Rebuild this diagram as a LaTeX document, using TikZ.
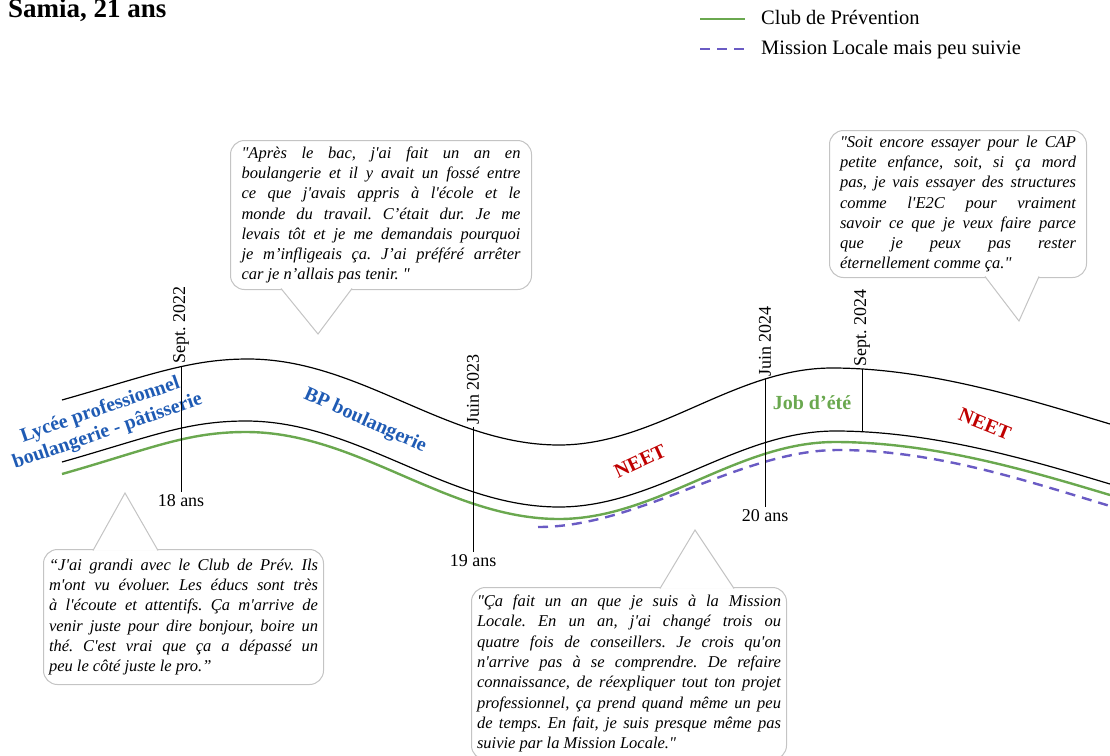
\documentclass[tikz,border=0pt]{standalone}
\usepackage{fontspec}
\setmainfont{Liberation Serif}[Ligatures=TeXOff]
\usetikzlibrary{calc}
\frenchspacing

\definecolor{bandblue}{HTML}{1F5BB4}
\definecolor{neetred}{HTML}{C00000}
\definecolor{clubgreen}{HTML}{6AA84F}
\definecolor{mlpurple}{HTML}{6A5BC4}
\definecolor{bubblegray}{HTML}{C4C4C4}

\begin{document}
\begin{tikzpicture}[x=1pt,y=-1pt,
  quote/.style={draw=bubblegray,line width=1pt,fill=white,rounded corners=14pt,
    anchor=north west,align=justify,inner ysep=0pt,
    font=\itshape\sloppy\fontsize{16.5}{20.3}\selectfont},
  tail/.style={draw=bubblegray,line width=1pt,fill=white},
  date/.style={rotate=90,anchor=west,inner sep=2pt,font=\fontsize{18}{20}\selectfont},
  age/.style={anchor=north,inner sep=2pt,font=\fontsize{18}{20}\selectfont},
  tick/.style={line width=1pt},
  band/.style={line width=1.2pt},
  club/.style={clubgreen,line width=2.4pt},
  mission/.style={mlpurple,line width=2.4pt,dash pattern=on 10pt off 7pt},
  phase/.style={font=\bfseries\fontsize{20}{22.5}\selectfont,align=center,inner sep=0pt},
  legend/.style={anchor=west,inner sep=0pt,text height=14pt,text depth=4pt,
    font=\fontsize{20.5}{22}\selectfont}]
\useasboundingbox (0,0) rectangle (1110,755);

\node[anchor=base west,inner sep=0pt,font=\bfseries\fontsize{27}{30}\selectfont] (title) at (8,17) {Samia, 21 ans};

\node[legend] (lclub) at (761,19) {Club de Prévention};
\node[legend] (lmission) at (761,49) {Mission Locale mais peu suivie};
\draw[club] ($(lclub.west)+(-61,0)$) -- ($(lclub.west)+(-16,0)$);
\draw[mission] ($(lmission.west)+(-61,0)$) -- ($(lmission.west)+(-17,0)$);

% parcours
\draw[band] (62,400) .. controls (150,375) and (190,359) .. (248,359)
  .. controls (360,359) and (447,445) .. (559,445)
  .. controls (657,445) and (734,368) .. (832,368)
  .. controls (930,368) and (1030,400) .. (1110,424);
\draw[band] (62,462) .. controls (150,437) and (186,421) .. (246,421)
  .. controls (358,421) and (447,507) .. (559,507)
  .. controls (657,507) and (737,431) .. (835,431)
  .. controls (933,431) and (1030,460) .. (1110,484);
\draw[club] (62,474) .. controls (150,449) and (186,432) .. (246,432)
  .. controls (358,432) and (447,519) .. (559,519)
  .. controls (657,519) and (737,442) .. (835,442)
  .. controls (933,442) and (1030,471) .. (1110,495);
\draw[mission] (538,527) .. controls (640,527) and (740,450) .. (838,450)
  .. controls (936,450) and (1030,482) .. (1110,506);

\node[phase,text=bandblue,rotate=19] (lycee) at (104,421) {Lycée professionnel\\boulangerie - pâtisserie};
\node[phase,text=bandblue,rotate=-24] (bp) at (365,421) {BP boulangerie};
\node[phase,text=neetred,rotate=25] (neet1) at (640,461) {NEET};
\node[phase,text=clubgreen] (job) at (812,403) {Job d’été};
\node[phase,text=neetred,rotate=-22] (neet2) at (985,424) {NEET};

% dates
\node[date] (sept22) at (181,366) {Sept. 2022};
\node[age] (ans18) at (181,492) {18 ans};
\draw[tick] (sept22.west) -- (ans18.north);
\node[date] (juin23) at (473,427) {Juin 2023};
\node[age] (ans19) at (473,552) {19 ans};
\draw[tick] (juin23.west) -- (ans19.north);
\node[date] (juin24) at (765,379) {Juin 2024};
\node[age] (ans20) at (765,507) {20 ans};
\draw[tick] (juin24.west) -- (ans20.north);
\node[date] (sept24) at (862,369) {Sept. 2024};
\coordinate (sept24end) at (862,432);
\draw[tick] (sept24.west) -- (sept24end);

% bulles
\node[quote,text width=279pt,inner xsep=11pt,minimum height=149pt] (q1) at (230,140)
  {"Après le bac, j'ai fait un an en\linebreak boulangerie et il y avait un fossé entre\linebreak
  ce que j'avais appris à l'école et le\linebreak monde du travail. C’était dur. Je me\linebreak
  levais tôt et je me demandais pourquoi\linebreak je m’infligeais ça. J’ai préféré arrêter\linebreak
  car je n’allais pas tenir.~"};
\draw[tail] ($(q1.south west)+(51,-1.5)$) -- (318,334) -- ($(q1.south west)+(122,-1.5)$);

\node[quote,text width=236pt,inner xsep=10.5pt,minimum height=147pt] (q2) at (829,130)
  {"Soit encore essayer pour le CAP\linebreak petite enfance, soit, si ça mord\linebreak
  pas, je vais essayer des structures\linebreak comme l'E2C pour vraiment\linebreak
  savoir ce que je veux faire parce\linebreak que je peux pas rester\linebreak
  éternellement comme ça."};
\draw[tail] ($(q2.south west)+(156,-1.5)$) -- (1019,321) -- ($(q2.south west)+(210,-1.5)$);

\node[quote,text width=269pt,inner xsep=5.5pt,minimum height=135pt] (q3) at (43,549)
  {“J'ai grandi avec le Club de Prév. Ils\linebreak m'ont vu évoluer. Les éducs sont très\linebreak
  à l'écoute et attentifs. Ça m'arrive de\linebreak venir juste pour dire bonjour, boire un\linebreak
  thé. C'est vrai que ça a dépassé un\linebreak peu le côté juste le pro.”};
\draw[tail] ($(q3.north west)+(50,1.5)$) -- (125,493) -- ($(q3.north west)+(115,1.5)$);

\node[quote,text width=304pt,inner xsep=5.5pt,minimum height=172pt] (q4) at (471,587)
  {"Ça fait un an que je suis à la Mission\linebreak Locale. En un an, j'ai changé trois ou\linebreak
  quatre fois de conseillers. Je crois qu'on\linebreak n'arrive pas à se comprendre. De refaire\linebreak
  connaissance, de réexpliquer tout ton projet\linebreak professionnel, ça prend quand même un peu\linebreak
  de temps. En fait, je suis presque même pas\linebreak suivie par la Mission Locale."};
\draw[tail] ($(q4.north west)+(189,1.5)$) -- (695,530) -- ($(q4.north west)+(263,1.5)$);
\end{tikzpicture}
\end{document}
